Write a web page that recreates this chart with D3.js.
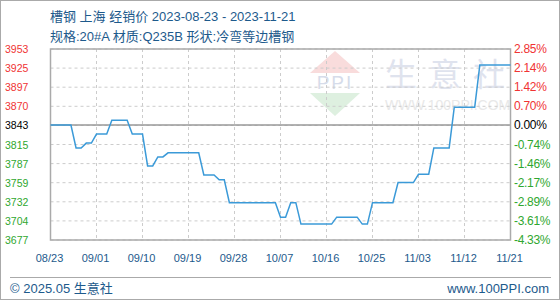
<!DOCTYPE html>
<html lang="zh">
<head>
<meta charset="UTF-8">
<style>
  body { margin: 0; background: #fff; }
  svg text { font-family: "Liberation Sans", "Noto Sans CJK SC", sans-serif; }
</style>
</head>
<body>
<svg id="chart" width="560" height="300"></svg>
<script src="https://d3js.org/d3.v7.min.js"></script>
<script>
// daily dealer price, 2023-08-23 .. 2023-11-21
const startDate = '2023-08-23'
const endDate = '2023-11-21'
const prices = [
  3843, 3843, 3843, 3843, 3843, 3810, 3810, 3817, 3817, 3830,
  3830, 3830, 3850, 3850, 3850, 3850, 3830, 3830, 3830, 3784,
  3784, 3797, 3797, 3803, 3803, 3803, 3803, 3803, 3803, 3803,
  3771, 3771, 3771, 3764, 3764, 3731, 3731, 3731, 3731, 3731,
  3731, 3731, 3731, 3731, 3731, 3710, 3710, 3731, 3731, 3700,
  3700, 3700, 3700, 3700, 3700, 3700, 3710, 3710, 3710, 3710,
  3710, 3700, 3700, 3731, 3731, 3731, 3731, 3731, 3760, 3760,
  3760, 3760, 3772, 3772, 3772, 3810, 3810, 3810, 3810, 3869,
  3869, 3869, 3869, 3869, 3930, 3930, 3930, 3930, 3930, 3930,
  3930
]
const basePrice = 3843
const yTickLabels = ['3953', '3925', '3897', '3870', '3843', '3815', '3787', '3759', '3732', '3704', '3677']
const pctLabels = ['2.85%', '2.14%', '1.42%', '0.70%', '0.00%', '-0.74%', '-1.46%', '-2.17%', '-2.89%', '-3.61%', '-4.33%']
const xTickLabels = ['08/23', '09/01', '09/10', '09/19', '09/28', '10/07', '10/16', '10/25', '11/03', '11/12', '11/21']

const parse = d3.timeParse('%Y-%m-%d')
const t0 = parse(startDate)
const data = prices.map((v, i) => ({ date: d3.timeDay.offset(t0, i), value: v }))
const xTicks = xTickLabels.map(s => parse('2023-' + s.replace('/', '-')))

const svg = d3.select('#chart')
const plot = { left: 50.5, right: 510.5, top: 49, bottom: 240 }

const x = d3.scaleTime()
  .domain([t0, parse(endDate)])
  .range([plot.left, plot.right])

const yMax = +yTickLabels[0], yMin = +yTickLabels[yTickLabels.length - 1]
const y = d3.scaleLinear()
  .domain([yMin, yMax])
  .range([plot.bottom, plot.top])

// tick rows are evenly spaced
const tickPos = d3.scaleLinear().domain([0, yTickLabels.length - 1]).range([plot.top, plot.bottom])

// outer frame
svg.append('rect')
  .attr('x', 0.5).attr('y', 0.5).attr('width', 559).attr('height', 299)
  .attr('fill', 'none').attr('stroke', '#aaa')

// title
svg.append('text').attr('x', 50).attr('y', 20.5)
  .attr('font-size', 13).attr('fill', '#1d5a8c')
  .text('槽钢 上海 经销价 2023-08-23 - 2023-11-21')
svg.append('text').attr('x', 50).attr('y', 41)
  .attr('font-size', 13).attr('fill', '#1d5a8c')
  .text('规格:20#A 材质:Q235B 形状:冷弯等边槽钢')

// watermark
const wm = svg.append('g')
wm.append('path').attr('d', 'M335,51 L360,73 L310,73 Z').attr('fill', '#f9dcdc')
wm.append('path').attr('d', 'M310,93 L360,93 L335,116 Z').attr('fill', '#def0e0')
wm.append('text').attr('x', 335).attr('y', 89).attr('text-anchor', 'middle')
  .attr('font-size', 19).attr('font-family', 'Liberation Serif').attr('fill', '#d6dcea')
  .attr('letter-spacing', 2).text('PPI')
wm.append('text').attr('x', 385).attr('y', 86)
  .attr('font-size', 32).attr('fill', '#dfe3ee').attr('letter-spacing', 12)
  .text('生意社')
wm.append('text').attr('x', 385).attr('y', 110)
  .attr('font-size', 14).attr('fill', '#e8e8e8')
  .text('WWW.100PPI.COM')

// grid
const grid = svg.append('g').attr('stroke', '#ccc').attr('stroke-dasharray', '3,3')
grid.selectAll('line.h')
  .data(yTickLabels)
  .join('line')
  .attr('class', 'h')
  .attr('x1', plot.left).attr('x2', plot.right)
  .attr('y1', (d, i) => tickPos(i)).attr('y2', (d, i) => tickPos(i))
grid.selectAll('line.v')
  .data(xTicks)
  .join('line')
  .attr('class', 'v')
  .attr('x1', d => x(d)).attr('x2', d => x(d))
  .attr('y1', plot.top).attr('y2', plot.bottom)

// base line
svg.append('line')
  .attr('x1', plot.left).attr('x2', plot.right)
  .attr('y1', y(basePrice)).attr('y2', y(basePrice))
  .attr('stroke', '#999').attr('stroke-width', 1.5)

// plot frame
svg.append('rect')
  .attr('x', plot.left).attr('y', plot.top)
  .attr('width', plot.right - plot.left).attr('height', plot.bottom - plot.top)
  .attr('fill', 'none').attr('stroke', '#aaa').attr('stroke-width', 1.5)

// price line
svg.append('path')
  .datum(data)
  .attr('fill', 'none')
  .attr('stroke', '#3b9ad8')
  .attr('stroke-width', 1.5)
  .attr('d', d3.line().x(d => x(d.date)).y(d => y(d.value)))

const colorOf = i => i < 4 ? '#f03333' : (i === 4 ? '#000' : '#2fa72f')

// left labels
svg.append('g').selectAll('text')
  .data(yTickLabels)
  .join('text')
  .attr('x', 5).attr('y', (d, i) => tickPos(i) + 4)
  .attr('font-size', 10.5)
  .attr('fill', (d, i) => colorOf(i))
  .text(d => d)

// right labels
svg.append('g').selectAll('text')
  .data(pctLabels)
  .join('text')
  .attr('x', 514).attr('y', (d, i) => tickPos(i) + 4)
  .attr('font-size', 12)
  .attr('font-family', 'Liberation Mono')
  .attr('letter-spacing', -0.3)
  .attr('fill', (d, i) => colorOf(i))
  .text(d => d)

// x labels
svg.append('g').selectAll('text')
  .data(xTicks)
  .join('text')
  .attr('x', d => x(d) - 1).attr('y', 262)
  .attr('text-anchor', 'middle')
  .attr('font-size', 11)
  .attr('fill', '#1d5a8c')
  .text((d, i) => xTickLabels[i])

// footer
svg.append('line')
  .attr('x1', 10).attr('x2', 551).attr('y1', 277.5).attr('y2', 277.5)
  .attr('stroke', '#aaa')
svg.append('text').attr('x', 10).attr('y', 293)
  .attr('font-size', 13).attr('fill', '#1d5a8c')
  .text('© 2025.05 生意社')
svg.append('text').attr('x', 549).attr('y', 293)
  .attr('text-anchor', 'end')
  .attr('font-size', 13).attr('fill', '#1d5a8c')
  .text('www.100PPI.com')
</script>
</body>
</html>
